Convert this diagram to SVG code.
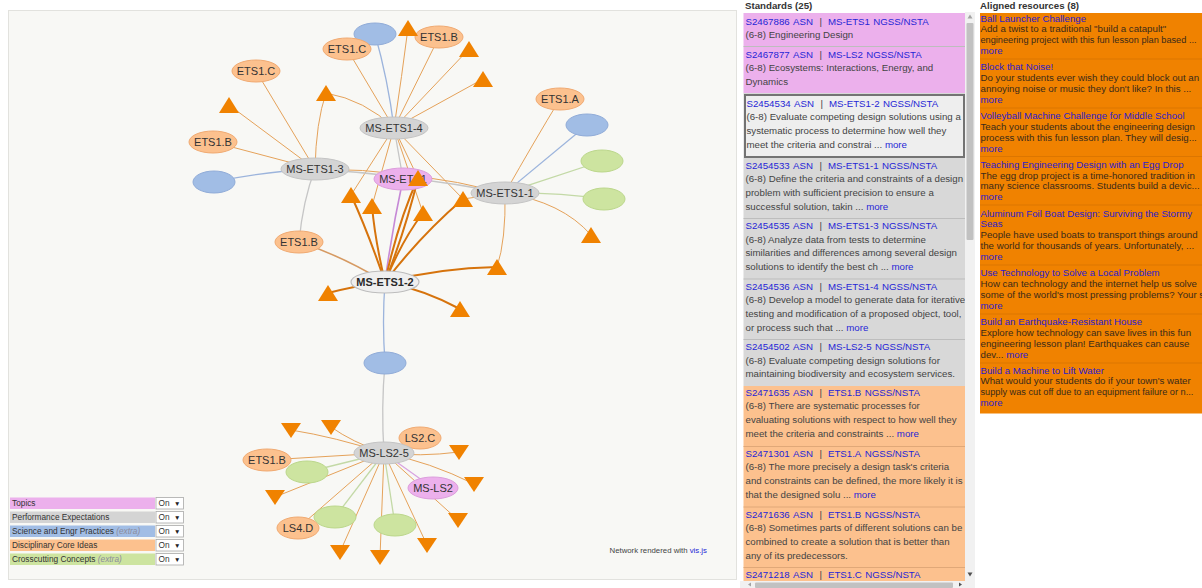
<svg xmlns="http://www.w3.org/2000/svg" width="1202" height="588" viewBox="0 0 1202 588">
<style>
  text { font-family: "Liberation Sans", Arial, sans-serif; }
  .lbl { font-size: 11px; fill: #333; text-anchor: middle; }
  .sel { font-weight: bold; fill: #2a2a2a; }
  .pe { fill: #d4d4d4; stroke: #c4c4c4; stroke-width: 1; }
  .pesel { fill: #efefef; stroke: #bdbdbd; stroke-width: 1.2; }
  .tp { fill: #ecb0ec; stroke: #dc9edc; stroke-width: 1; }
  .dci { fill: #fcc18e; stroke: #f0aa72; stroke-width: 1; }
  .sep { fill: #a1bde5; stroke: #91acd8; stroke-width: 1; }
  .cc { fill: #cde4a0; stroke: #bcd78c; stroke-width: 1; }
  .tri { fill: #f08200; }
  .eo { stroke: #e5a25a; stroke-width: 1; }
  .eob { stroke: #d6730c; stroke-width: 2; }
  .eg { stroke: #c6c6c6; stroke-width: 1.3; }
  .eb { stroke: #9cb4dc; stroke-width: 1.3; }
  .egr { stroke: #c3d9a6; stroke-width: 1.3; }
  .ep { stroke: #c689d6; stroke-width: 1.6; }
  .hd { font-size: 9.7px; font-weight: bold; fill: #333; }
  .tx { font-size: 9.7px; fill: #444; }
  .lk { fill: #2626d6; }
  .rt { font-size: 9.7px; fill: #3a2a1a; }
  .rtn { font-size: 9.2px; }
  .rl { fill: #2d1ccc; }
  .lg { font-size: 8.3px; fill: #333; }
  .ar { font-size: 6.5px; fill: #222; }
  .ex { font-style: italic; fill: #8c8c9c; }
  .div { stroke: #bdbdbd; stroke-width: 1; }
  .divo { stroke: #e0a878; stroke-width: 1; }
  .divr { stroke: #dc7600; stroke-width: 1; }
</style>
<defs>
  <clipPath id="stdClip"><rect x="740" y="12" width="225" height="569"/></clipPath>
</defs>

<rect x="0" y="0" width="1202" height="588" fill="#ffffff"/>

<!-- network canvas -->
<rect x="8.5" y="10.5" width="728" height="569" fill="#f8f8f5" stroke="#e2e2de" stroke-width="1"/>

<g id="connectors" fill="none">
  <!-- MS-ETS1-4 -->
  <path class="eb" d="M394,128 Q388,80 375,34"/>
  <path class="eo" d="M394,128 L347,49"/>
  <path class="eo" d="M394,128 Q402,75 408,28"/>
  <path class="eo" d="M394,128 L439,37"/>
  <path class="eo" d="M394,128 L469,49"/>
  <path class="eo" d="M394,128 L483,79"/>
  <path class="eo" d="M394,128 Q365,100 326,93"/>
  <path class="eo" d="M394,128 L351,195"/>
  <path class="eo" d="M394,128 L372,206"/>
  <path class="eo" d="M394,128 L418,178"/>
  <path class="eo" d="M394,128 L423,213"/>
  <path class="eo" d="M394,128 L463,199"/>
  <path class="eg" d="M394,128 Q398,150 403,179"/>
  <!-- MS-ETS1-3 -->
  <path class="eo" d="M315,169 L256,71"/>
  <path class="eo" d="M315,169 L229,105"/>
  <path class="eo" d="M315,169 L213,142"/>
  <path class="eb" d="M315,169 Q260,172 214,182"/>
  <path class="eo" d="M315,169 Q316,122 326,93"/>
  <path class="eg" d="M315,169 Q303,200 299,242"/>
  <path class="eg" d="M315,169 Q410,175 505,193"/>
  <path class="eo" d="M315,169 Q410,169 505,193"/>
  <!-- MS-ETS1 -->
  <path class="ep" d="M403,179 Q392,230 385,282"/>
  <!-- MS-ETS1-1 -->
  <path class="eo" d="M505,193 Q535,140 560,99"/>
  <path class="eb" d="M505,193 L587,125"/>
  <path class="egr" d="M505,193 L602,161"/>
  <path class="egr" d="M505,193 Q555,192 604,199"/>
  <path class="eo" d="M505,193 Q562,202 591,235"/>
  <path class="eo" d="M505,193 Q506,240 497,267"/>
  <path class="eo" d="M505,193 L463,199"/>
  <!-- MS-ETS1-2 -->
  <path class="eob" d="M385,282 Q368,232 351,195"/>
  <path class="eob" d="M385,282 Q375,240 372,206"/>
  <path class="eob" d="M385,282 Q398,222 418,178"/>
  <path class="eob" d="M385,282 Q406,228 418,178"/>
  <path class="eob" d="M385,282 Q402,240 423,213"/>
  <path class="eob" d="M385,282 Q420,236 463,199"/>
  <path class="eob" d="M385,282 Q440,268 497,267"/>
  <path class="eob" d="M385,282 Q355,286 328,293"/>
  <path class="eob" d="M385,282 Q425,290 460,309"/>
  <path d="M385,282 Q340,255 299,242" stroke="#d69a62" stroke-width="1.6"/>
  <path class="eb" d="M385,282 Q382,322 385,363"/>
  <path class="eg" d="M385,363 Q381,408 384,453"/>
  <!-- MS-LS2-5 -->
  <path class="eo" d="M384,453 Q335,437 291,430"/>
  <path class="eo" d="M384,453 Q352,442 331,427"/>
  <path class="eo" d="M384,453 L420,438"/>
  <path class="eo" d="M384,453 Q420,457 459,452"/>
  <path class="eo" d="M384,453 L267,460"/>
  <path class="egr" d="M384,453 L307,472"/>
  <path class="eo" d="M384,453 L275,497"/>
  <path d="M384,453 L433,488" stroke="#d8a2e0" stroke-width="1.2"/>
  <path class="eo" d="M384,453 Q430,462 474,484"/>
  <path class="eo" d="M384,453 L458,520"/>
  <path class="egr" d="M384,453 L335,517"/>
  <path class="eo" d="M384,453 L298,528"/>
  <path class="eo" d="M384,453 L340,552"/>
  <path class="eo" d="M384,453 L380,557"/>
  <path class="egr" d="M384,453 L395,525"/>
  <path class="eo" d="M384,453 L427,545"/>
</g>

<!-- empty practice / concept nodes -->
<g id="sep-top"><ellipse class="sep" cx="375" cy="34" rx="21" ry="11"/></g>
<g id="sep-left"><ellipse class="sep" cx="214" cy="182" rx="21" ry="11"/></g>
<g id="sep-right"><ellipse class="sep" cx="587" cy="125" rx="21" ry="11"/></g>
<g id="sep-mid"><ellipse class="sep" cx="385" cy="363" rx="21" ry="11"/></g>
<g id="cc-r1"><ellipse class="cc" cx="602" cy="161" rx="21" ry="11"/></g>
<g id="cc-r2"><ellipse class="cc" cx="604" cy="199" rx="21" ry="11"/></g>
<g id="cc-b1"><ellipse class="cc" cx="307" cy="472" rx="21" ry="11"/></g>
<g id="cc-b2"><ellipse class="cc" cx="335" cy="517" rx="21" ry="11"/></g>
<g id="cc-b3"><ellipse class="cc" cx="395" cy="525" rx="21" ry="11"/></g>

<!-- core ideas -->
<g id="dci-ets1b-top"><ellipse class="dci" cx="439" cy="37" rx="24" ry="11"/><text class="lbl" x="439" y="41">ETS1.B</text></g>
<g id="dci-ets1c-top"><ellipse class="dci" cx="347" cy="49" rx="24" ry="11"/><text class="lbl" x="347" y="53">ETS1.C</text></g>
<g id="dci-ets1c-left"><ellipse class="dci" cx="256" cy="71" rx="24" ry="11"/><text class="lbl" x="256" y="75">ETS1.C</text></g>
<g id="dci-ets1b-left"><ellipse class="dci" cx="213" cy="142" rx="24" ry="11"/><text class="lbl" x="213" y="146">ETS1.B</text></g>
<g id="dci-ets1a"><ellipse class="dci" cx="560" cy="99" rx="24" ry="11"/><text class="lbl" x="560" y="103">ETS1.A</text></g>
<g id="dci-ets1b-mid"><ellipse class="dci" cx="299" cy="242" rx="24" ry="11"/><text class="lbl" x="299" y="246">ETS1.B</text></g>
<g id="dci-ls2c"><ellipse class="dci" cx="420" cy="438" rx="21" ry="11"/><text class="lbl" x="420" y="442">LS2.C</text></g>
<g id="dci-ets1b-low"><ellipse class="dci" cx="267" cy="460" rx="24" ry="11"/><text class="lbl" x="267" y="464">ETS1.B</text></g>
<g id="dci-ls4d"><ellipse class="dci" cx="298" cy="528" rx="21" ry="11"/><text class="lbl" x="298" y="532">LS4.D</text></g>

<!-- performance expectations and topics -->
<g id="pe-ets1-4"><ellipse class="pe" cx="394" cy="128" rx="34" ry="11"/><text class="lbl" x="394" y="132">MS-ETS1-4</text></g>
<g id="pe-ets1-3"><ellipse class="pe" cx="315" cy="169" rx="34" ry="11"/><text class="lbl" x="315" y="173">MS-ETS1-3</text></g>
<g id="topic-ets1"><ellipse class="tp" cx="403" cy="179" rx="29" ry="11"/><text class="lbl" x="403" y="183">MS-ETS1</text></g>
<g id="pe-ets1-1"><ellipse class="pe" cx="505" cy="193" rx="34" ry="11"/><text class="lbl" x="505" y="197">MS-ETS1-1</text></g>
<g id="pe-ets1-2"><ellipse class="pesel" cx="385" cy="282" rx="34" ry="11"/><text class="lbl sel" x="385" y="286">MS-ETS1-2</text></g>
<g id="pe-ls2-5"><ellipse class="pe" cx="384" cy="453" rx="30" ry="11"/><text class="lbl" x="384" y="457">MS-LS2-5</text></g>
<g id="topic-ls2"><ellipse class="tp" cx="433" cy="488" rx="25" ry="11"/><text class="lbl" x="433" y="492">MS-LS2</text></g>

<!-- resources (triangles) -->
<g id="resources-up">
  <polygon class="tri" points="408,20 418,36 398,36"/>
  <polygon class="tri" points="469,41 479,57 459,57"/>
  <polygon class="tri" points="483,71 493,87 473,87"/>
  <polygon class="tri" points="326,85 336,101 316,101"/>
  <polygon class="tri" points="229,97 239,113 219,113"/>
  <polygon class="tri" points="418,170 428,186 408,186"/>
  <polygon class="tri" points="351,187 361,203 341,203"/>
  <polygon class="tri" points="372,198 382,214 362,214"/>
  <polygon class="tri" points="423,205 433,221 413,221"/>
  <polygon class="tri" points="463,191 473,207 453,207"/>
  <polygon class="tri" points="591,227 601,243 581,243"/>
  <polygon class="tri" points="497,259 507,275 487,275"/>
  <polygon class="tri" points="328,285 338,301 318,301"/>
  <polygon class="tri" points="460,301 470,317 450,317"/>
</g>
<g id="resources-down">
  <polygon class="tri" points="281,423 301,423 291,438"/>
  <polygon class="tri" points="321,420 341,420 331,435"/>
  <polygon class="tri" points="449,445 469,445 459,460"/>
  <polygon class="tri" points="464,477 484,477 474,492"/>
  <polygon class="tri" points="265,490 285,490 275,505"/>
  <polygon class="tri" points="448,513 468,513 458,528"/>
  <polygon class="tri" points="330,545 350,545 340,560"/>
  <polygon class="tri" points="370,550 390,550 380,565"/>
  <polygon class="tri" points="417,538 437,538 427,553"/>
</g>

<!-- legend -->
<g id="legend">
  <rect x="10" y="497.5" width="145" height="11.5" fill="#ecb0ec"/>
  <text class="lg" x="12" y="506.3">Topics</text>
  <rect x="10" y="511.5" width="145" height="11.5" fill="#d4d4d4"/>
  <text class="lg" x="12" y="520.3">Performance Expectations</text>
  <rect x="10" y="525.5" width="145" height="11.5" fill="#a1bde5"/>
  <text class="lg" x="12" y="534.3">Science and Engr Practices <tspan class="ex">(extra)</tspan></text>
  <rect x="10" y="539.5" width="145" height="11.5" fill="#fcc18e"/>
  <text class="lg" x="12" y="548.3">Disciplinary Core Ideas</text>
  <rect x="10" y="553.5" width="145" height="11.5" fill="#cde4a0"/>
  <text class="lg" x="12" y="562.3">Crosscutting Concepts <tspan class="ex">(extra)</tspan></text>
  <g fill="#ffffff" stroke="#a8a8a8" stroke-width="0.8">
    <rect x="156" y="497.5" width="27.5" height="11.5"/>
    <rect x="156" y="511.5" width="27.5" height="11.5"/>
    <rect x="156" y="525.5" width="27.5" height="11.5"/>
    <rect x="156" y="539.5" width="27.5" height="11.5"/>
    <rect x="156" y="553.5" width="27.5" height="11.5"/>
  </g>
  <text class="lg" x="158.5" y="506.3">On <tspan class="ar" dx="2">▼</tspan></text>
  <text class="lg" x="158.5" y="520.3">On <tspan class="ar" dx="2">▼</tspan></text>
  <text class="lg" x="158.5" y="534.3">On <tspan class="ar" dx="2">▼</tspan></text>
  <text class="lg" x="158.5" y="548.3">On <tspan class="ar" dx="2">▼</tspan></text>
  <text class="lg" x="158.5" y="562.3">On <tspan class="ar" dx="2">▼</tspan></text>
</g>

<g id="credit">
  <text x="609.5" y="552.5" style="font-size:7.8px;fill:#444">Network rendered with <tspan fill="#2626d6">vis.js</tspan></text>
</g>

<!-- standards list -->
<g id="standards">
  <text class="hd" x="745" y="8.5">Standards (25)</text>
  <g clip-path="url(#stdClip)">
    <rect x="743.5" y="13" width="221.5" height="80" fill="#ecb0ec"/>
    <rect x="743.5" y="93" width="221.5" height="293" fill="#d8d8d8"/>
    <rect x="743.5" y="386" width="221.5" height="200" fill="#fcc18e"/>
    <rect x="745" y="95" width="219" height="62" fill="#eeeeee" stroke="#737373" stroke-width="2"/>
    <line class="div" x1="743.5" y1="46.5" x2="965" y2="46.5" stroke="#d294d2"/>
    <line class="div" x1="743.5" y1="218.5" x2="965" y2="218.5"/>
    <line class="div" x1="743.5" y1="279" x2="965" y2="279"/>
    <line class="div" x1="743.5" y1="339.5" x2="965" y2="339.5"/>
    <line class="divo" x1="743.5" y1="446.5" x2="965" y2="446.5"/>
    <line class="divo" x1="743.5" y1="507" x2="965" y2="507"/>
    <line class="divo" x1="743.5" y1="567.5" x2="965" y2="567.5"/>

    <text class="tx" x="745.5" y="24.5"><tspan class="lk">S2467886</tspan><tspan class="lk" dx="3.4">ASN</tspan><tspan dx="6.4">|</tspan><tspan class="lk" dx="6">MS-ETS1</tspan><tspan class="lk" dx="3.4">NGSS/NSTA</tspan></text>
    <text class="tx" x="745.5" y="38.2">(6-8) Engineering Design</text>

    <text class="tx" x="745.5" y="57.5"><tspan class="lk">S2467877</tspan><tspan class="lk" dx="3.4">ASN</tspan><tspan dx="6.4">|</tspan><tspan class="lk" dx="6">MS-LS2</tspan><tspan class="lk" dx="3.4">NGSS/NSTA</tspan></text>
    <text class="tx" x="745.5" y="71.2">(6-8) Ecosystems: Interactions, Energy, and</text>
    <text class="tx" x="745.5" y="84.9">Dynamics</text>

    <text class="tx" x="746.5" y="106.5"><tspan class="lk">S2454534</tspan><tspan class="lk" dx="3.4">ASN</tspan><tspan dx="6.4">|</tspan><tspan class="lk" dx="6">MS-ETS1-2</tspan><tspan class="lk" dx="3.4">NGSS/NSTA</tspan></text>
    <text class="tx" x="746.5" y="120.2">(6-8) Evaluate competing design solutions using a</text>
    <text class="tx" x="746.5" y="133.9">systematic process to determine how well they</text>
    <text class="tx" x="746.5" y="147.6">meet the criteria and constrai ... <tspan class="lk">more</tspan></text>

    <text class="tx" x="745.5" y="168.5"><tspan class="lk">S2454533</tspan><tspan class="lk" dx="3.4">ASN</tspan><tspan dx="6.4">|</tspan><tspan class="lk" dx="6">MS-ETS1-1</tspan><tspan class="lk" dx="3.4">NGSS/NSTA</tspan></text>
    <text class="tx" x="745.5" y="182.2">(6-8) Define the criteria and constraints of a design</text>
    <text class="tx" x="745.5" y="195.9">problem with sufficient precision to ensure a</text>
    <text class="tx" x="745.5" y="209.6">successful solution, takin ... <tspan class="lk">more</tspan></text>

    <text class="tx" x="745.5" y="229"><tspan class="lk">S2454535</tspan><tspan class="lk" dx="3.4">ASN</tspan><tspan dx="6.4">|</tspan><tspan class="lk" dx="6">MS-ETS1-3</tspan><tspan class="lk" dx="3.4">NGSS/NSTA</tspan></text>
    <text class="tx" x="745.5" y="242.7">(6-8) Analyze data from tests to determine</text>
    <text class="tx" x="745.5" y="256.4">similarities and differences among several design</text>
    <text class="tx" x="745.5" y="270.1">solutions to identify the best ch ... <tspan class="lk">more</tspan></text>

    <text class="tx" x="745.5" y="289.5"><tspan class="lk">S2454536</tspan><tspan class="lk" dx="3.4">ASN</tspan><tspan dx="6.4">|</tspan><tspan class="lk" dx="6">MS-ETS1-4</tspan><tspan class="lk" dx="3.4">NGSS/NSTA</tspan></text>
    <text class="tx" x="745.5" y="303.2">(6-8) Develop a model to generate data for iterative</text>
    <text class="tx" x="745.5" y="316.9">testing and modification of a proposed object, tool,</text>
    <text class="tx" x="745.5" y="330.6">or process such that ... <tspan class="lk">more</tspan></text>

    <text class="tx" x="745.5" y="350"><tspan class="lk">S2454502</tspan><tspan class="lk" dx="3.4">ASN</tspan><tspan dx="6.4">|</tspan><tspan class="lk" dx="6">MS-LS2-5</tspan><tspan class="lk" dx="3.4">NGSS/NSTA</tspan></text>
    <text class="tx" x="745.5" y="363.7">(6-8) Evaluate competing design solutions for</text>
    <text class="tx" x="745.5" y="377.4">maintaining biodiversity and ecosystem services.</text>

    <text class="tx" x="745.5" y="395.5"><tspan class="lk">S2471635</tspan><tspan class="lk" dx="3.4">ASN</tspan><tspan dx="6.4">|</tspan><tspan class="lk" dx="6">ETS1.B</tspan><tspan class="lk" dx="3.4">NGSS/NSTA</tspan></text>
    <text class="tx" x="745.5" y="409.2">(6-8) There are systematic processes for</text>
    <text class="tx" x="745.5" y="422.9">evaluating solutions with respect to how well they</text>
    <text class="tx" x="745.5" y="436.6">meet the criteria and constraints ... <tspan class="lk">more</tspan></text>

    <text class="tx" x="745.5" y="456.5"><tspan class="lk">S2471301</tspan><tspan class="lk" dx="3.4">ASN</tspan><tspan dx="6.4">|</tspan><tspan class="lk" dx="6">ETS1.A</tspan><tspan class="lk" dx="3.4">NGSS/NSTA</tspan></text>
    <text class="tx" x="745.5" y="470.2">(6-8) The more precisely a design task's criteria</text>
    <text class="tx" x="745.5" y="483.9">and constraints can be defined, the more likely it is</text>
    <text class="tx" x="745.5" y="497.6">that the designed solu ... <tspan class="lk">more</tspan></text>

    <text class="tx" x="745.5" y="517.5"><tspan class="lk">S2471636</tspan><tspan class="lk" dx="3.4">ASN</tspan><tspan dx="6.4">|</tspan><tspan class="lk" dx="6">ETS1.B</tspan><tspan class="lk" dx="3.4">NGSS/NSTA</tspan></text>
    <text class="tx" x="745.5" y="531.2">(6-8) Sometimes parts of different solutions can be</text>
    <text class="tx" x="745.5" y="544.9">combined to create a solution that is better than</text>
    <text class="tx" x="745.5" y="558.6">any of its predecessors.</text>

    <text class="tx" x="745.5" y="578"><tspan class="lk">S2471218</tspan><tspan class="lk" dx="3.4">ASN</tspan><tspan dx="6.4">|</tspan><tspan class="lk" dx="6">ETS1.C</tspan><tspan class="lk" dx="3.4">NGSS/NSTA</tspan></text>
  </g>
  <!-- scrollbars -->
  <rect x="965" y="12" width="10" height="569" fill="#f1f1f1"/>
  <rect x="966.5" y="23" width="7" height="217" rx="1" fill="#c1c1c1"/>
  <polygon points="970,14.5 972.5,18.5 967.5,18.5" fill="#a3a3a3"/>
  <polygon points="967.5,572.5 972.5,572.5 970,576.5" fill="#505050"/>
  <rect x="740" y="581" width="235" height="7" fill="#f1f1f1"/>
  <rect x="755" y="582.5" width="198" height="5.5" rx="1" fill="#c1c1c1"/>
  <polygon points="748,584.5 751,582.5 751,586.5" fill="#a3a3a3"/>
  <polygon points="962,584.5 959,582.5 959,586.5" fill="#505050"/>
</g>

<!-- aligned resources -->
<g id="aligned-resources">
  <text class="hd" x="980" y="8.5">Aligned resources (8)</text>
  <rect x="980" y="13" width="222" height="400.5" fill="#f08200"/>
  <line class="divr" x1="980" y1="59" x2="1202" y2="59"/>
  <line class="divr" x1="980" y1="108" x2="1202" y2="108"/>
  <line class="divr" x1="980" y1="156.5" x2="1202" y2="156.5"/>
  <line class="divr" x1="980" y1="205" x2="1202" y2="205"/>
  <line class="divr" x1="980" y1="265" x2="1202" y2="265"/>
  <line class="divr" x1="980" y1="314" x2="1202" y2="314"/>
  <line class="divr" x1="980" y1="363" x2="1202" y2="363"/>

  <text class="rt" x="980.5" y="21.5"><tspan class="rl">Ball Launcher Challenge</tspan></text>
  <text class="rt" x="980.5" y="32.4">Add a twist to a traditional "build a catapult"</text>
  <text class="rt rtn" x="980.5" y="43.3">engineering project with this fun lesson plan based ...</text>
  <text class="rt" x="980.5" y="54.2"><tspan class="rl">more</tspan></text>

  <text class="rt" x="980.5" y="70.2"><tspan class="rl">Block that Noise!</tspan></text>
  <text class="rt" x="980.5" y="81.1">Do your students ever wish they could block out an</text>
  <text class="rt" x="980.5" y="92">annoying noise or music they don't like? In this ...</text>
  <text class="rt" x="980.5" y="102.9"><tspan class="rl">more</tspan></text>

  <text class="rt" x="980.5" y="118.9"><tspan class="rl">Volleyball Machine Challenge for Middle School</tspan></text>
  <text class="rt" x="980.5" y="129.8">Teach your students about the engineering design</text>
  <text class="rt" x="980.5" y="140.7">process with this fun lesson plan. They will desig...</text>
  <text class="rt" x="980.5" y="151.6"><tspan class="rl">more</tspan></text>

  <text class="rt" x="980.5" y="167.6"><tspan class="rl">Teaching Engineering Design with an Egg Drop</tspan></text>
  <text class="rt" x="980.5" y="178.5">The egg drop project is a time-honored tradition in</text>
  <text class="rt" x="980.5" y="189.4">many science classrooms. Students build a devic...</text>
  <text class="rt" x="980.5" y="200.3"><tspan class="rl">more</tspan></text>

  <text class="rt" x="980.5" y="216.5"><tspan class="rl">Aluminum Foil Boat Design: Surviving the Stormy</tspan></text>
  <text class="rt" x="980.5" y="227.4"><tspan class="rl">Seas</tspan></text>
  <text class="rt" x="980.5" y="238.3">People have used boats to transport things around</text>
  <text class="rt" x="980.5" y="249.2">the world for thousands of years. Unfortunately, ...</text>
  <text class="rt" x="980.5" y="260.1"><tspan class="rl">more</tspan></text>

  <text class="rt" x="980.5" y="276"><tspan class="rl">Use Technology to Solve a Local Problem</tspan></text>
  <text class="rt" x="980.5" y="286.9">How can technology and the internet help us solve</text>
  <text class="rt" x="980.5" y="297.8">some of the world's most pressing problems? Your s</text>
  <text class="rt" x="980.5" y="308.7"><tspan class="rl">more</tspan></text>

  <text class="rt" x="980.5" y="325"><tspan class="rl">Build an Earthquake-Resistant House</tspan></text>
  <text class="rt" x="980.5" y="335.9">Explore how technology can save lives in this fun</text>
  <text class="rt" x="980.5" y="346.8">engineering lesson plan! Earthquakes can cause</text>
  <text class="rt" x="980.5" y="357.7">dev... <tspan class="rl">more</tspan></text>

  <text class="rt" x="980.5" y="373.5"><tspan class="rl">Build a Machine to Lift Water</tspan></text>
  <text class="rt" x="980.5" y="384.4">What would your students do if your town's water</text>
  <text class="rt rtn" x="980.5" y="395.3">supply was cut off due to an equipment failure or n...</text>
  <text class="rt" x="980.5" y="406.2"><tspan class="rl">more</tspan></text>
</g>
</svg>
